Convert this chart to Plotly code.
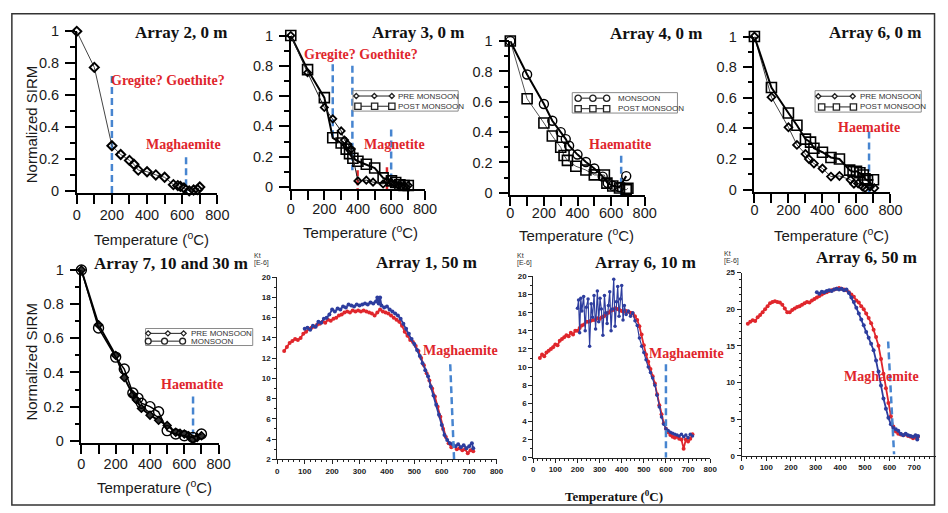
import plotly.graph_objects as go

W, H = 948, 513

# ---------------- data ----------------
# Array 2, 0 m
a2_T = [0, 100, 200, 250, 300, 325, 350, 400, 450, 500, 550, 575, 590, 610, 640, 665, 688, 700]
a2_sirm = [1.0, 0.774, 0.283, 0.228, 0.191, 0.167, 0.13, 0.12, 0.10, 0.085, 0.039, 0.033, 0.028, 0.018, 0.0, 0.005, 0.008, 0.024]

# Array 3, 0 m
a3_pre_T = [0, 100, 200, 250, 300, 320, 340, 360, 400, 450, 490, 550, 575, 600, 620, 640, 660, 680, 700]
a3_pre = [1.0, 0.755, 0.525, 0.45, 0.37, 0.31, 0.28, 0.25, 0.04, 0.045, 0.032, 0.02, 0.04, 0.03, 0.02, 0.01, 0.005, 0.005, 0.01]
a3_post_T = [0, 100, 200, 250, 300, 330, 350, 370, 400, 450, 500, 550, 600, 625, 650, 675, 700]
a3_post = [1.0, 0.775, 0.59, 0.325, 0.29, 0.25, 0.22, 0.19, 0.17, 0.15, 0.125, 0.06, 0.04, 0.03, 0.015, 0.01, 0.01]

# Array 4, 0 m
a4_mon_T = [0, 100, 200, 250, 300, 330, 350, 400, 450, 500, 550, 580, 610, 650, 690]
a4_mon = [1.0, 0.78, 0.585, 0.475, 0.40, 0.354, 0.31, 0.252, 0.203, 0.16, 0.107, 0.064, 0.047, 0.038, 0.11]
a4_post_T = [0, 100, 200, 250, 300, 320, 340, 390, 450, 500, 560, 575, 610, 650, 690, 700]
a4_post = [1.0, 0.62, 0.46, 0.374, 0.30, 0.246, 0.214, 0.175, 0.15, 0.118, 0.117, 0.064, 0.045, 0.032, 0.02, 0.03]

# Array 6, 0 m
a6_pre_T = [0, 100, 200, 250, 300, 320, 350, 400, 450, 500, 565, 585, 610, 635, 650, 680, 705]
a6_pre = [1.0, 0.604, 0.407, 0.292, 0.233, 0.20, 0.17, 0.138, 0.085, 0.089, 0.064, 0.038, 0.04, 0.02, 0.01, 0.02, 0.01]
a6_post_T = [0, 100, 200, 250, 300, 330, 350, 400, 450, 500, 560, 580, 600, 620, 640, 650, 665, 700]
a6_post = [1.0, 0.667, 0.50, 0.42, 0.33, 0.31, 0.27, 0.244, 0.21, 0.20, 0.127, 0.117, 0.12, 0.11, 0.095, 0.07, 0.06, 0.064]

# Array 7, 10 and 30 m
a7_pre_T = [0, 100, 200, 250, 300, 320, 350, 400, 450, 500, 550, 575, 600, 625, 650, 675, 700]
a7_pre = [1.0, 0.68, 0.50, 0.37, 0.27, 0.24, 0.19, 0.15, 0.12, 0.09, 0.05, 0.045, 0.04, 0.03, 0.01, 0.02, 0.03]
a7_mon_T = [0, 100, 200, 250, 300, 330, 350, 400, 450, 500, 550, 600, 650, 700]
a7_mon = [1.0, 0.66, 0.49, 0.42, 0.28, 0.25, 0.22, 0.20, 0.17, 0.06, 0.04, 0.03, 0.02, 0.04]

# Array 1, 50 m (susceptibility, Kt E-6)
b1_red_T = list(range(25, 716, 10))
b1_red = [12.7, 13.1, 13.5, 13.7, 13.9, 13.8, 14.0, 14.4, 14.6, 14.9, 15.0, 15.1, 15.3, 15.4, 15.6, 15.5,
          15.8, 15.7, 15.9, 16.0, 16.2, 16.3, 16.5, 16.6, 16.5, 16.7, 16.6, 16.7, 16.6, 16.7, 16.6, 16.5,
          16.4, 16.2, 16.5, 16.8, 16.6, 16.5, 16.4, 16.2, 16.0, 15.8, 15.6, 15.2, 14.6, 14.2, 13.8, 13.6,
          13.2, 12.7, 12.0, 11.3, 10.5, 9.8, 9.0, 8.2, 7.2, 6.2, 5.0, 4.2, 3.6, 3.2, 3.3, 3.0, 3.1, 2.9,
          3.0, 2.6, 2.9, 2.8]
b1_blue_T = [100, 110, 120, 130, 140, 150, 160, 170, 180, 190, 200, 210, 220, 230, 240, 250, 260, 270,
             280, 290, 300, 310, 320, 330, 340, 350, 360, 365, 370, 375, 380, 390, 400, 410, 420, 430,
             440, 450, 460, 470, 480, 490, 500, 510, 520, 530, 540, 550, 560, 570, 580, 590, 600, 610,
             620, 630, 640, 650, 660, 670, 680, 690, 700, 710, 715]
b1_blue = [14.9, 15.0, 14.8, 15.2, 15.1, 15.6, 15.5, 15.9, 16.0, 16.3, 16.8, 16.6, 16.9, 16.8, 17.1, 17.0,
           17.3, 17.2, 17.1, 17.3, 17.2, 17.3, 17.4, 17.3, 17.5, 17.4, 17.6, 18.0, 17.4, 18.0, 17.2, 17.0,
           17.1, 16.8, 16.6, 16.4, 16.2, 15.9, 15.4, 14.9, 14.4, 13.9, 13.4, 12.8, 12.2, 11.5, 10.8, 10.2,
           9.2, 8.3, 7.4, 6.4, 5.4, 4.4, 3.9, 3.6, 3.5, 3.3, 3.5, 3.2, 3.4, 3.1, 3.3, 3.6, 3.1]

# Array 6, 10 m
b2_red_T = list(range(30, 721, 10))
b2_red = [11.0, 11.4, 11.2, 11.6, 11.8, 12.0, 12.2, 12.5, 12.4, 12.9, 13.1, 13.3, 13.5, 13.4, 13.8, 13.6,
          14.0, 14.0, 14.3, 14.6, 14.7, 15.0, 15.0, 15.1, 15.2, 15.2, 15.4, 15.3, 15.5, 15.6, 15.8, 16.0,
          16.2, 16.3, 16.5, 16.4, 16.3, 16.2, 16.1, 16.2, 16.1, 16.0, 15.9, 15.6, 15.2, 14.5, 13.6, 12.4,
          11.4, 10.6, 9.8, 9.0, 8.2, 7.0, 5.8, 4.8, 3.8, 3.2, 2.8, 2.5, 2.3, 2.2, 2.3, 2.1, 2.0, 1.0, 2.0,
          1.8, 2.1, 2.6]
b2_blue_T = [200, 205, 210, 215, 220, 228, 235, 240, 248, 255, 262, 268, 275, 282, 290, 296, 302, 308,
             315, 322, 328, 334, 340, 346, 352, 358, 364, 370, 376, 382, 388, 394, 400, 406, 412, 420,
             430, 440, 450, 460, 470, 480, 490, 500, 510, 520, 530, 540, 550, 560, 570, 580, 590, 600,
             610, 620, 630, 640, 650, 660, 670, 680, 690, 700, 710, 720]
b2_blue = [16.5, 17.4, 13.8, 17.6, 16.2, 17.8, 14.0, 16.6, 17.5, 12.3, 17.0, 15.5, 17.9, 14.2, 18.4, 15.0,
           17.6, 16.4, 13.5, 17.9, 16.0, 14.8, 16.8, 18.3, 14.0, 16.4, 19.7, 14.5, 17.2, 18.9, 15.6, 17.5,
           19.0, 15.2, 16.8, 15.8, 16.2, 15.6, 16.0, 15.1, 14.6, 13.2, 12.3, 11.6, 10.8, 10.0, 9.4, 8.8,
           8.0, 6.9, 5.6, 4.5, 3.7, 3.2, 3.0, 2.8, 2.7, 2.6, 2.5, 2.4, 2.6, 2.3, 2.5, 2.2, 2.6, 2.4]

# Array 6, 50 m
b3_red_T = list(range(25, 716, 10))
b3_red = [18.0, 18.3, 18.5, 18.4, 18.9, 19.2, 19.6, 20.0, 20.4, 20.8, 21.0, 21.1, 21.0, 20.9, 20.6, 20.1,
          19.6, 19.6, 19.9, 20.1, 20.3, 20.4, 20.6, 20.8, 21.0, 20.9, 21.2, 21.4, 21.6, 21.8, 22.0, 22.2,
          22.3, 22.5, 22.6, 22.7, 22.8, 22.9, 22.8, 22.7, 22.6, 22.3, 22.0, 21.7, 21.2, 20.9, 20.4, 20.0,
          19.4, 18.8, 18.1, 17.2, 16.2, 15.0, 13.2, 11.2, 9.2, 7.2, 5.4, 4.0, 3.3, 3.0, 2.9, 2.8, 2.9, 2.7,
          2.6, 2.4, 2.5, 2.6]
b3_blue_T = [305, 315, 325, 335, 345, 355, 365, 375, 385, 395, 405, 415, 425, 435, 445, 455, 465, 475,
             485, 495, 505, 515, 525, 535, 545, 555, 565, 575, 585, 595, 605, 615, 625, 635, 645, 655,
             665, 675, 685, 695, 705, 712, 715]
b3_blue = [22.3, 22.1, 22.4, 22.3, 22.5, 22.6, 22.5, 22.7, 22.8, 22.7, 22.8, 22.6, 22.7, 22.2, 21.6, 21.0,
           20.2, 19.4, 18.6, 17.8, 16.9, 16.1, 15.3, 14.4, 13.0, 11.5, 9.6, 7.8, 6.4, 5.2, 4.3, 3.8, 3.6,
           3.4, 3.0, 2.8, 3.0, 2.8, 2.7, 2.6, 2.8, 2.2, 2.7]

# transition markers (temperature, normalized value / Kt)
p1_dash = [([200, 200], [0.72, -0.015]), ([622, 622], [0.21, -0.015])]
p2_dash = [([250, 250], [0.81, 0.31]), ([367, 367], [0.80, 0.11]), ([598, 598], [0.38, 0.02])]
p2_red = [([398, 398], [0.11, -0.015]), ([573, 573], [0.13, -0.015])]
p3_dash = [([660, 660], [0.245, -0.015])]
p4_dash = [([674, 674], [0.38, -0.015])]
p5_dash = [([651, 651], [0.26, 0.04])]
p6_dash = [([631, 645], [11.4, 2.0])]
p7_dash = [([600, 600], [10.3, 0.0])]
p8_dash = [([594, 618], [15.6, 0.2])]

# ---------------- helpers ----------------
RED = '#e0262c'
BLUE = '#2d3d9e'
DASHBLUE = '#4785d0'
SANS = 'Liberation Sans'
SERIF = 'Liberation Serif'


def px(x):
    return x / W


def py(y):
    return 1 - y / H


fig = go.Figure()
shapes = []
annotations = []
layout = {}


def top_axes(i, x0, x1, p1, p0, xstand):
    unit = p0 - p1
    pb = p0 + 0.015 * unit
    xs = f'xaxis{i if i > 1 else ""}'
    ys = f'yaxis{i if i > 1 else ""}'
    layout[xs] = dict(domain=[px(x0), px(x1)], range=[0, 800], anchor=f'y{i}', showline=True,
                      linecolor='black', linewidth=1.5, ticks='outside', ticklen=9, tickwidth=1.5,
                      tickcolor='black', tickmode='linear', tick0=0, dtick=200,
                      minor=dict(tickmode='linear', tick0=0, dtick=100, ticks='outside', ticklen=9,
                                 tickwidth=1.5, tickcolor='black'),
                      showgrid=False, zeroline=False, ticklabelstandoff=xstand,
                      tickfont=dict(family=SANS, size=14.5, color='#1a1a1a'))
    layout[ys] = dict(domain=[py(pb), py(p1)], range=[-0.015, 1.0], anchor=f'x{i}', showline=True,
                      linecolor='black', linewidth=1.5, ticks='outside', ticklen=10, tickwidth=1.5,
                      tickcolor='black', tickvals=[0, 0.2, 0.4, 0.6, 0.8, 1.0],
                      ticktext=['0', '0.2', '0.4', '0.6', '0.8', '1'],
                      minor=dict(tickmode='linear', tick0=0, dtick=0.1, ticks='outside', ticklen=5,
                                 tickwidth=1.5, tickcolor='black'),
                      showgrid=False, zeroline=False, ticklabelstandoff=3,
                      tickfont=dict(family=SANS, size=14.5, color='#1a1a1a'))


def bot_axes(i, x0, x1, xr, ptop, pbot, yr, ydt):
    xs = f'xaxis{i}'
    ys = f'yaxis{i}'
    layout[xs] = dict(domain=[px(x0), px(x1)], range=xr, anchor=f'y{i}', showline=True,
                      linecolor='#222', linewidth=1, ticks='outside', ticklen=4, tickwidth=1,
                      tickcolor='#222', dtick=100, tick0=0,
                      minor=dict(dtick=20, ticks='outside', ticklen=2, tickwidth=1, tickcolor='#222'),
                      showgrid=False, zeroline=False,
                      tickfont=dict(family=SANS, size=8, color='#222', weight='bold'))
    layout[ys] = dict(domain=[py(pbot), py(ptop)], range=yr, anchor=f'x{i}', showline=True,
                      linecolor='#222', linewidth=1, ticks='outside', ticklen=4, tickwidth=1,
                      tickcolor='#222', dtick=ydt, tick0=0,
                      minor=dict(dtick=1, ticks='outside', ticklen=2, tickwidth=1, tickcolor='#222'),
                      showgrid=False, zeroline=False,
                      tickfont=dict(family=SANS, size=8, color='#222', weight='bold'))


def add(i, x, y, mode='lines+markers', **kw):
    fig.add_trace(go.Scatter(x=x, y=y, mode=mode, xaxis=f'x{i}', yaxis=f'y{i}', showlegend=False,
                             cliponaxis=False, hoverinfo='skip', **kw))


def dashes(i, lst, color=DASHBLUE, dash='7px,4px', width=2.5):
    for xs, ys in lst:
        add(i, xs, ys, mode='lines', line=dict(color=color, width=width, dash=dash))


def text(s, x, y, size, color='#111', serif=True, bold=True, xanchor='center', angle=0):
    annotations.append(dict(text=f'<b>{s}</b>' if bold else s, x=px(x), y=py(y), xref='paper',
                            yref='paper', showarrow=False, xanchor=xanchor, yanchor='middle',
                            textangle=angle,
                            font=dict(size=size, color=color, family=SERIF if serif else SANS)))


def marker_shape(kind, x, y, r, lw=1.3):
    common = dict(xref='paper', yref='paper', line=dict(color='#222', width=lw), fillcolor='white')
    if kind == 'diamond':
        path = (f'M{px(x)},{py(y - r)} L{px(x + r)},{py(y)} L{px(x)},{py(y + r)} '
                f'L{px(x - r)},{py(y)} Z')
        shapes.append(dict(type='path', path=path, **common))
    elif kind == 'square':
        shapes.append(dict(type='rect', x0=px(x - r), x1=px(x + r), y0=py(y + r), y1=py(y - r), **common))
    else:
        shapes.append(dict(type='circle', x0=px(x - r), x1=px(x + r), y0=py(y + r), y1=py(y - r), **common))


def legend_box(x0, y0, x1, y1, rows):
    shapes.append(dict(type='rect', xref='paper', yref='paper', x0=px(x0), x1=px(x1), y0=py(y1),
                       y1=py(y0), line=dict(color='#8a8a8a', width=1), fillcolor='rgba(255,255,255,0.9)'))
    for kind, xs, yrow, tx, label, r in rows:
        shapes.append(dict(type='line', xref='paper', yref='paper', x0=px(xs[0]), x1=px(xs[-1]),
                           y0=py(yrow), y1=py(yrow), line=dict(color='#222', width=1)))
        for xm in xs:
            marker_shape(kind, xm, yrow, r)
        text(label, tx, yrow, 8, color='#333', serif=False, bold=False, xanchor='left')


# ---------------- panel 1 : Array 2, 0 m ----------------
top_axes(1, 74, 217, 24, 188, -1)
dashes(1, p1_dash)
add(1, a2_T, a2_sirm, line=dict(color='#444', width=1),
    marker=dict(symbol='diamond-open', size=7, color='black', line=dict(width=2)))

# ---------------- panel 2 : Array 3, 0 m ----------------
top_axes(2, 291.7, 428.3, 28.3, 184, -3)
dashes(2, p2_dash)
dashes(2, p2_red, color=RED, dash='6px,3px', width=2.5)
add(2, a3_post_T, a3_post, line=dict(color='black', width=2),
    marker=dict(symbol='square-open', size=10, color='black', line=dict(width=1.6)))
add(2, a3_pre_T, a3_pre, line=dict(color='#222', width=1),
    marker=dict(symbol='diamond-open', size=5.5, color='black', line=dict(width=1.8)))

# ---------------- panel 3 : Array 4, 0 m ----------------
top_axes(3, 515, 651.7, 34, 190, -5)
dashes(3, p3_dash)
add(3, a4_post_T, a4_post, line=dict(color='#555', width=1),
    marker=dict(symbol='square-open', size=10, color='black', line=dict(width=1.6)))
add(3, a4_mon_T, a4_mon, line=dict(color='black', width=2),
    marker=dict(symbol='circle-open', size=9, color='black', line=dict(width=1.4)))

# ---------------- panel 4 : Array 6, 0 m ----------------
top_axes(4, 763.3, 901.7, 29.3, 186.7, -5)
dashes(4, p4_dash)
add(4, a6_pre_T, a6_pre, line=dict(color='#444', width=1),
    marker=dict(symbol='diamond-open', size=6, color='black', line=dict(width=1.8)))
add(4, a6_post_T, a6_post, line=dict(color='black', width=2),
    marker=dict(symbol='square-open', size=10, color='black', line=dict(width=1.6)))

# ---------------- panel 5 : Array 7, 10 and 30 m ----------------
top_axes(5, 78.7, 218.3, 269.3, 445, -3)
dashes(5, p5_dash)
add(5, a7_pre_T, a7_pre, line=dict(color='black', width=2),
    marker=dict(symbol='diamond', size=6, color='#333', line=dict(width=1.5, color='black')))
add(5, a7_mon_T, a7_mon, line=dict(color='black', width=1.5),
    marker=dict(symbol='circle-open', size=10, color='black', line=dict(width=1.4)))

# ---------------- panel 6 : Array 1, 50 m ----------------
bot_axes(6, 278, 501, [0, 800], 276.7, 464, [2, 20], 2)
add(6, b1_red_T, b1_red, line=dict(color=RED, width=1.8), marker=dict(size=4, color=RED))
add(6, b1_blue_T, b1_blue, line=dict(color=BLUE, width=1.8), marker=dict(size=4, color=BLUE))
dashes(6, p6_dash)

# ---------------- panel 7 : Array 6, 10 m ----------------
bot_axes(7, 538.3, 718.3, [0, 800], 276, 462.3, [0, 20], 2)
add(7, b2_red_T, b2_red, line=dict(color=RED, width=1.8), marker=dict(size=4, color=RED))
add(7, b2_blue_T, b2_blue, line=dict(color=BLUE, width=1.2), marker=dict(size=3.5, color=BLUE))
dashes(7, p7_dash)

# ---------------- panel 8 : Array 6, 50 m ----------------
bot_axes(8, 750.3, 948, [0, 788], 272, 460.3, [0, 25], 5)
add(8, b3_red_T, b3_red, line=dict(color=RED, width=1.8), marker=dict(size=4, color=RED))
add(8, b3_blue_T, b3_blue, line=dict(color=BLUE, width=1.8), marker=dict(size=4, color=BLUE))
dashes(8, p8_dash)

# ---------------- titles & labels ----------------
text('Array 2, 0 m', 181, 25, 17)
text('Array 3, 0 m', 421.5, 25, 17)
text('Array 4, 0 m', 663.5, 26, 17)
text('Array 6, 0 m', 886.5, 25, 17)
text('Array 7, 10 and 30 m', 169.5, 263, 17)
text('Array 1, 50 m', 429.5, 262, 17)
text('Array 6, 10 m', 652.5, 262, 17)
text('Array 6, 50 m', 877.5, 256, 17)

text('Gregite? Goethite?', 167, 75, 14, color=RED)
text('Maghaemite', 182.5, 140, 14, color=RED)
text('Gregite? Goethite?', 363, 48, 14, color=RED)
text('Magnetite', 397, 140, 14, color=RED)
text('Haematite', 627, 140, 14, color=RED)
text('Haematite', 880, 123, 14, color=RED)
text('Haematite', 191.5, 387, 14, color=RED)
text('Maghaemite', 464.5, 352, 14, color=RED)
text('Maghaemite', 694.5, 355, 14, color=RED)
text('Maghaemite', 892.5, 379, 14, color=RED)

for cx, cy in [(150, 237), (363, 230), (582, 233), (842, 233), (153, 492)]:
    text('Temperature (<sup>o</sup>C)', cx, cy, 15, color='#1a1a1a', serif=False, bold=False)
text('Normalized SIRM', 28, 120, 15, color='#1a1a1a', serif=False, bold=False, angle=-90)
text('Normalized SIRM', 28, 364, 15, color='#1a1a1a', serif=False, bold=False, angle=-90)
text('Temperature (<sup>0</sup>C)', 620, 502, 13, color='#111')

for kx, ky in [(252, 254), (520, 254), (730, 252)]:
    text('Kt', kx, ky, 7, color='#333', serif=False, bold=False, xanchor='left')
    text('[E-6]', kx, ky + 8, 7, color='#333', serif=False, bold=False, xanchor='left')

# ---------------- legends ----------------
legend_box(355, 85, 462, 106, [
    ('diamond', [358.3, 376.7, 394.5], 90.5, 399, 'PRE MONSOON', 2.6),
    ('square', [360, 377, 394.5], 101, 399, 'POST MONSOON', 3.2)])
legend_box(578, 87, 685, 108, [
    ('circle', [584, 599, 613], 92.7, 622, 'MONSOON', 3.2),
    ('square', [584, 599, 613], 103.5, 622, 'POST MONSOON', 3.2)])
legend_box(825, 85, 933, 107, [
    ('diamond', [828.3, 845, 863.3], 90.7, 869, 'PRE MONSOON', 2.6),
    ('square', [831.7, 846.7, 864], 101.7, 869, 'POST MONSOON', 3.2)])
legend_box(144, 329.5, 253, 347, [
    ('diamond', [146.7, 166.7, 182.7], 334.5, 188, 'PRE MONSOON', 2.6),
    ('circle', [146.7, 163.3, 181.7], 342.5, 188, 'MONSOON', 3.0)])

# figure border
shapes.append(dict(type='rect', xref='paper', yref='paper', x0=px(8), x1=px(946.5), y0=py(511),
                   y1=py(6), line=dict(color='#333', width=1.5), layer='below'))

fig.update_layout(
    width=W, height=H, margin=dict(l=0, r=0, t=0, b=0),
    paper_bgcolor='white', plot_bgcolor='rgba(0,0,0,0)',
    shapes=shapes, annotations=annotations, showlegend=False,
    **layout)

fig.write_html('out.html')
